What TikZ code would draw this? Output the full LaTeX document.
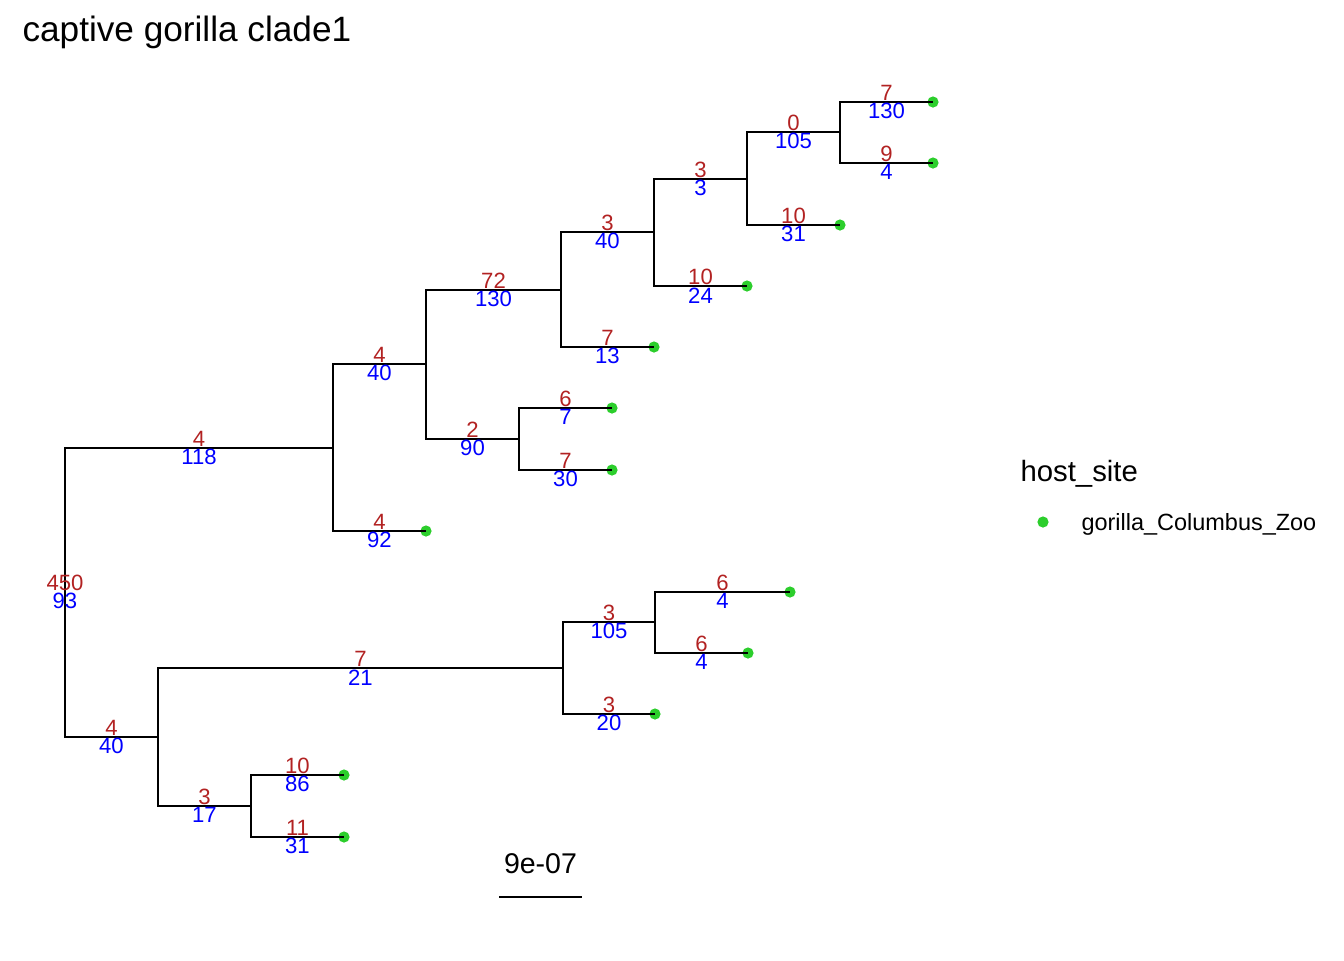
\documentclass[tikz,border=0pt]{standalone}
\usepackage{fontspec}
\setmainfont{Liberation Sans}
\usepackage{xcolor}
\usetikzlibrary{positioning}
\definecolor{mutred}{RGB}{178,34,34}
\definecolor{cntblue}{RGB}{0,0,255}
\definecolor{tipgreen}{RGB}{44,206,44}

\begin{document}
\begin{tikzpicture}[
  x=0.375pt, y=-0.375pt,
  branch/.style={line width=1.1pt},
  mutlab/.style={text=mutred, inner sep=0pt, yshift=3.3pt, font=\fontsize{8.3}{9}\selectfont},
  cntlab/.style={text=cntblue, inner sep=0pt, yshift=-3.5pt, font=\fontsize{8.3}{9}\selectfont},
  tipdot/.style={fill=tipgreen},
  legtext/.style={anchor=west, inner sep=0pt}
]
\useasboundingbox (0,0) rectangle (1344,960);

% internal nodes
\coordinate (root) at (65,592);
\coordinate (nA) at (333,448);
\coordinate (nB) at (426,364);
\coordinate (nC) at (561,290);
\coordinate (nD) at (519,439);
\coordinate (nE) at (654,232);
\coordinate (nF) at (747,179);
\coordinate (nG) at (840,132);
\coordinate (nH) at (158,737);
\coordinate (nI) at (563,668);
\coordinate (nJ) at (251,806);
\coordinate (nK) at (655,622);

% tips
\coordinate (tA) at (426,531);
\coordinate (tC) at (654,347);
\coordinate (tD1) at (612,408);
\coordinate (tD2) at (612,470);
\coordinate (tE) at (747,286);
\coordinate (tF) at (840,225);
\coordinate (tG1) at (933,102);
\coordinate (tG2) at (933,163);
\coordinate (tI) at (655,714);
\coordinate (tK1) at (790,592);
\coordinate (tK2) at (748,653);
\coordinate (tJ1) at (344,775);
\coordinate (tJ2) at (344,837);

\foreach \t in {tA,tC,tD1,tD2,tE,tF,tG1,tG2,tI,tK1,tK2,tJ1,tJ2}
  \fill[tipdot] (\t) circle (2.1pt);

% upper clade
\draw[branch] (root) |- node[mutlab,pos=0.75]{4} node[cntlab,pos=0.75]{118} (nA);
\draw[branch] (nA) |- node[mutlab,pos=0.75]{4} node[cntlab,pos=0.75]{40} (nB);
\draw[branch] (nA) |- node[mutlab,pos=0.75]{4} node[cntlab,pos=0.75]{92} (tA);
\draw[branch] (nB) |- node[mutlab,pos=0.75]{72} node[cntlab,pos=0.75]{130} (nC);
\draw[branch] (nB) |- node[mutlab,pos=0.75]{2} node[cntlab,pos=0.75]{90} (nD);
\draw[branch] (nD) |- node[mutlab,pos=0.75]{6} node[cntlab,pos=0.75]{7} (tD1);
\draw[branch] (nD) |- node[mutlab,pos=0.75]{7} node[cntlab,pos=0.75]{30} (tD2);
\draw[branch] (nC) |- node[mutlab,pos=0.75]{3} node[cntlab,pos=0.75]{40} (nE);
\draw[branch] (nC) |- node[mutlab,pos=0.75]{7} node[cntlab,pos=0.75]{13} (tC);
\draw[branch] (nE) |- node[mutlab,pos=0.75]{3} node[cntlab,pos=0.75]{3} (nF);
\draw[branch] (nE) |- node[mutlab,pos=0.75]{10} node[cntlab,pos=0.75]{24} (tE);
\draw[branch] (nF) |- node[mutlab,pos=0.75]{0} node[cntlab,pos=0.75]{105} (nG);
\draw[branch] (nF) |- node[mutlab,pos=0.75]{10} node[cntlab,pos=0.75]{31} (tF);
\draw[branch] (nG) |- node[mutlab,pos=0.75]{7} node[cntlab,pos=0.75]{130} (tG1);
\draw[branch] (nG) |- node[mutlab,pos=0.75]{9} node[cntlab,pos=0.75]{4} (tG2);

% lower clade
\draw[branch] (root) |- node[mutlab,pos=0.75]{4} node[cntlab,pos=0.75]{40} (nH);
\draw[branch] (nH) |- node[mutlab,pos=0.75]{7} node[cntlab,pos=0.75]{21} (nI);
\draw[branch] (nH) |- node[mutlab,pos=0.75]{3} node[cntlab,pos=0.75]{17} (nJ);
\draw[branch] (nI) |- node[mutlab,pos=0.75]{3} node[cntlab,pos=0.75]{105} (nK);
\draw[branch] (nI) |- node[mutlab,pos=0.75]{3} node[cntlab,pos=0.75]{20} (tI);
\draw[branch] (nK) |- node[mutlab,pos=0.75]{6} node[cntlab,pos=0.75]{4} (tK1);
\draw[branch] (nK) |- node[mutlab,pos=0.75]{6} node[cntlab,pos=0.75]{4} (tK2);
\draw[branch] (nJ) |- node[mutlab,pos=0.75]{10} node[cntlab,pos=0.75]{86} (tJ1);
\draw[branch] (nJ) |- node[mutlab,pos=0.75]{11} node[cntlab,pos=0.75]{31} (tJ2);

% root labels
\node[mutlab] (rootmut) at (root) {450};
\node[cntlab] (rootcnt) at (root) {93};

% title
\node[legtext, font=\fontsize{13.2}{15}\selectfont] (title) at (22,32) {captive gorilla clade1};

% scale bar
\coordinate (sbl) at (499,897);
\coordinate (sbr) at (582,897);
\draw[branch] (sbl) -- (sbr);
\node[inner sep=0pt, font=\fontsize{10.7}{12}\selectfont] (sblab) at (540.5,864) {9e-07};

% legend
\node[legtext, font=\fontsize{11}{13}\selectfont] (legtitle) at (1020,474) {host\_site};
\coordinate (legdot) at (1043,522);
\fill[tipdot] (legdot) circle (2.1pt);
\node[legtext, font=\fontsize{8.8}{10}\selectfont] (legkey) at (1081,524) {gorilla\_Columbus\_Zoo};
\end{tikzpicture}
\end{document}
